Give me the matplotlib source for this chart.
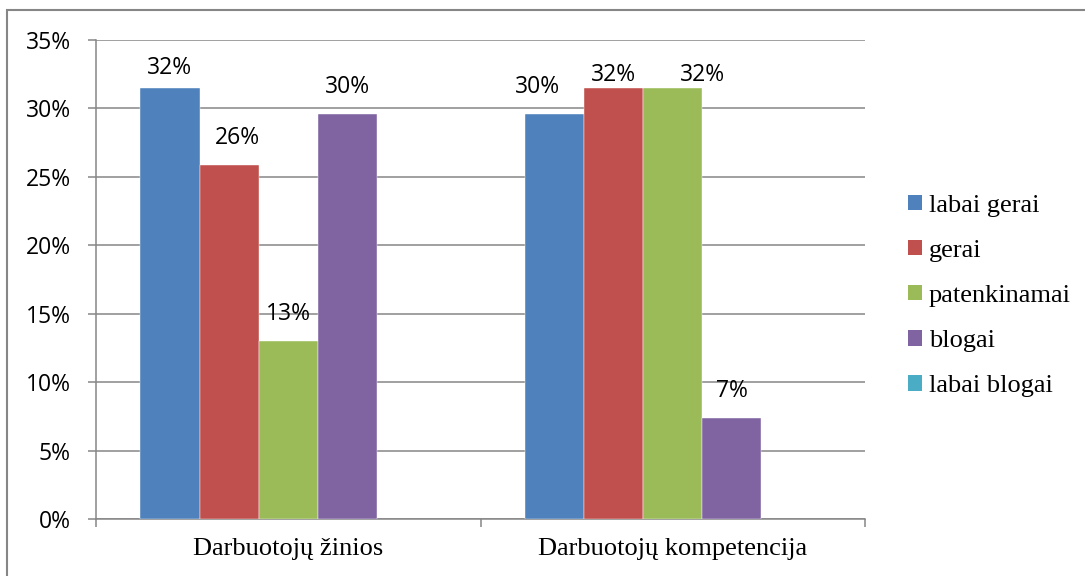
import matplotlib
matplotlib.use("Agg")
import matplotlib.pyplot as plt
from matplotlib.patches import Patch, Rectangle
from matplotlib.ticker import FuncFormatter, MultipleLocator

# Survey results (% of respondents)
categories = ["Darbuotojų žinios", "Darbuotojų kompetencija"]
series_names = ["labai gerai", "gerai", "patenkinamai", "blogai", "labai blogai"]
labai_gerai = [31.5, 29.6]
gerai = [25.9, 31.5]
patenkinamai = [13.0, 31.5]
blogai = [29.6, 7.4]
labai_blogai = [0.0, 0.0]
series_values = [labai_gerai, gerai, patenkinamai, blogai, labai_blogai]
colors = ["#4F81BD", "#C0504D", "#9BBB59", "#8064A2", "#4BACC6"]

# hand-placed label nudges in pixels (dx, dy downwards), keyed by (series, category)
label_nudge = {(0, 0): (0, 7), (1, 0): (8, 0), (0, 1): (-17, 0),
               (1, 1): (0, 14), (2, 1): (30, 14)}

W, H, DPI = 1085, 576, 100
fig = plt.figure(figsize=(W / DPI, H / DPI), dpi=DPI)
px = 72 / DPI  # points per pixel

sans = ["Open Sans", "DejaVu Sans"]
serif = ["Liberation Serif", "DejaVu Serif"]
grid_c = "#868686"

# chart-area frame
fig.patches.append(Rectangle((7 / W, -0.2), 1.2, 1.2 - 10 / H,
                             transform=fig.transFigure, fill=False,
                             edgecolor=grid_c, linewidth=1.5, zorder=0))

ax = fig.add_axes([96 / W, 1 - 519 / H, (865 - 96) / W, (519 - 40) / H])

n = len(series_names)
bw = 1 / (n + 1.5)
xs = list(range(len(categories)))
for i, (vals, col) in enumerate(zip(series_values, colors)):
    pos = [x + (i - (n - 1) / 2) * bw for x in xs]
    ax.bar(pos, vals, width=bw, color=col,
           edgecolor=["#FFFFFF" if v > 0 else "none" for v in vals],
           linewidth=0.3, zorder=3)
    for j, (p, v) in enumerate(zip(pos, vals)):
        if v <= 0:
            continue
        dx, dy = label_nudge.get((i, j), (0, 0))
        ax.annotate(f"{v:.0f}%", (p, v), xytext=(dx * px, (27 - dy) * px),
                    textcoords="offset points", ha="center", va="center",
                    fontsize=16.5, family=sans, color="#000000", zorder=4)

ax.set_xlim(-0.5, len(categories) - 0.5)
ax.set_ylim(0, 35)
ax.yaxis.set_major_locator(MultipleLocator(5))
ax.yaxis.set_major_formatter(FuncFormatter(lambda v, _: f"{v:.0f}%"))
ax.grid(axis="y", color=grid_c, linewidth=1.1, zorder=1)
ax.set_axisbelow(True)

ax.set_xticks([x for x in xs])
ax.set_xticklabels(categories, family=serif, fontsize=19)
ax.set_xticks([x - 0.5 for x in xs] + [len(categories) - 0.5], minor=True)
ax.tick_params(axis="x", which="major", length=0, pad=14)
ax.tick_params(axis="x", which="minor", length=8 * px, width=1.1,
               color=grid_c, direction="out")
ax.tick_params(axis="y", length=8 * px, width=1.1, color=grid_c, pad=17 * px,
               labelsize=16.5)
for lab in ax.get_yticklabels():
    lab.set_family(sans)

for side in ("top", "right"):
    ax.spines[side].set_visible(False)
for side in ("left", "bottom"):
    ax.spines[side].set_color(grid_c)
    ax.spines[side].set_linewidth(1.1)

handles = [Patch(facecolor=c, edgecolor="none") for c in colors]
fig.legend(handles, series_names, loc="center left",
           bbox_to_anchor=(908 / W, 1 - 296 / H), frameon=False,
           prop={"family": serif, "size": 19}, handlelength=0.53,
           handleheight=0.53, handletextpad=0.25, labelspacing=0.87,
           borderpad=0, borderaxespad=0)

fig.savefig("out.png", dpi=DPI)
